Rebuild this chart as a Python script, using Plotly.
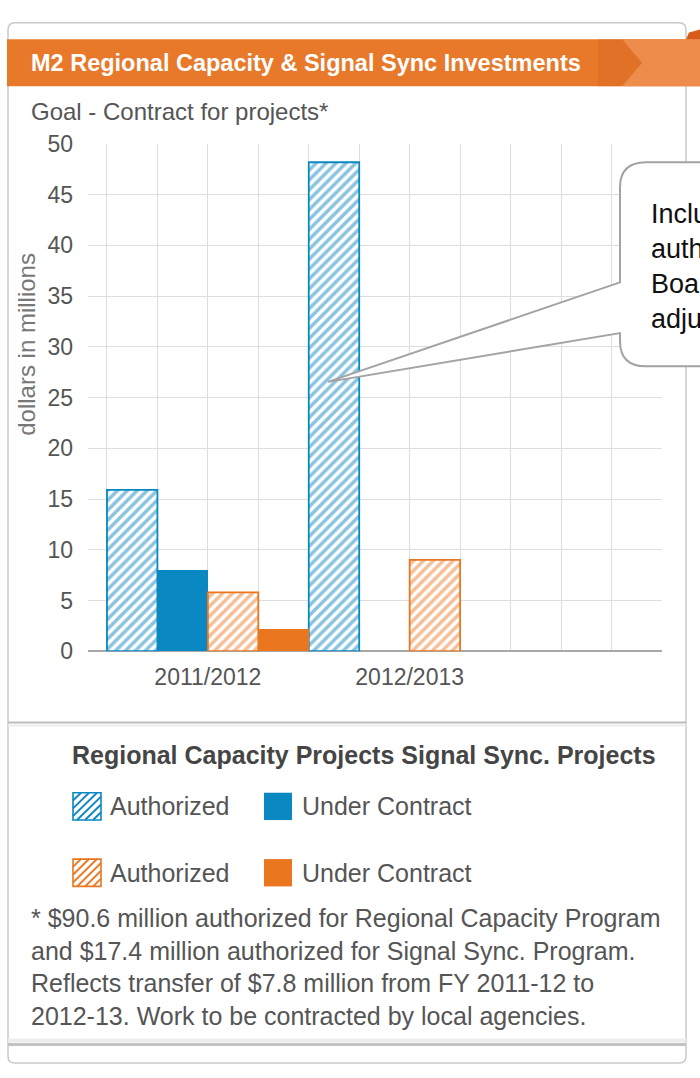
import plotly.graph_objects as go

W, H = 700, 1078

# ---------------- data ----------------
categories = ["2011/2012", "2012/2013"]
regional_authorized = [15.9, 48.2]
regional_under_contract = [8.0, 0.0]
signal_authorized = [5.8, 9.0]
signal_under_contract = [2.2, 0.0]
y_ticks = [0, 5, 10, 15, 20, 25, 30, 35, 40, 45, 50]

title_text = "M2 Regional Capacity & Signal Sync Investments"
subtitle_text = "Goal - Contract for projects*"
y_title = "dollars in millions"
legend_header = "Regional Capacity Projects Signal Sync. Projects"
legend_labels = ["Authorized", "Under Contract"]
footnote_lines = [
    "* $90.6 million authorized for Regional Capacity Program",
    "and $17.4 million authorized for Signal Sync. Program.",
    "Reflects transfer of $7.8 million from FY 2011-12 to",
    "2012-13. Work to be contracted by local agencies.",
]
callout_lines = ["Inclu", "auth", "Boa", "adju"]

# ---------------- style ----------------
FONT = "Liberation Sans, Arial, Helvetica, sans-serif"
BLUE = "#0A88C2"
BLUE_HATCH = "#1488C0"
ORANGE = "#EA761F"
ORANGE_HATCH = "#EC7D2C"
BANNER = "#E8792B"
GRID = "#DEDEDE"
TEXT = "#555555"


def px(x):
    return x / W


def py(y):
    return 1 - y / H


fig = go.Figure()
xpos = list(range(len(categories)))


def hatched_marker(line_color, hatch_color):
    return dict(
        color="white",
        pattern=dict(shape="/", fgcolor=hatch_color, bgcolor="white",
                     size=7, solidity=0.5),
        line=dict(color=line_color, width=1.8),
    )


fig.add_bar(x=xpos, y=regional_authorized, name="Authorized",
            marker=hatched_marker(BLUE, BLUE_HATCH))
fig.add_bar(x=xpos, y=regional_under_contract, name="Under Contract",
            marker=dict(color=BLUE, line=dict(width=0)))
fig.add_bar(x=xpos, y=signal_authorized, name="Authorized",
            marker=hatched_marker(ORANGE, ORANGE_HATCH))
fig.add_bar(x=xpos, y=signal_under_contract, name="Under Contract",
            marker=dict(color=ORANGE, line=dict(width=0)))

fig.update_layout(
    width=W, height=H,
    margin=dict(l=0, r=0, t=0, b=0),
    paper_bgcolor="white", plot_bgcolor="rgba(0,0,0,0)",
    barmode="group", bargap=0, bargroupgap=0,
    showlegend=False,
    font=dict(family=FONT, color=TEXT),
)

fig.update_xaxes(
    domain=[px(88), px(662)], range=[-0.594, 2.2505],
    tickmode="array", tickvals=xpos, ticktext=categories,
    showgrid=True, gridcolor=GRID, gridwidth=1,
    minor=dict(tickmode="linear", tick0=-0.5, dtick=0.25, showgrid=True,
               gridcolor=GRID, gridwidth=1, ticks=""),
    zeroline=False, showline=False, ticks="",
    tickfont=dict(size=23, color=TEXT, family=FONT),
    ticklabelstandoff=10, fixedrange=True,
)
fig.update_yaxes(
    domain=[py(654), py(134)], range=[0, 50.02],
    tickmode="array", tickvals=y_ticks,
    showgrid=True, gridcolor=GRID, gridwidth=1,
    zeroline=True, zerolinecolor="#A8A8A8", zerolinewidth=1.5,
    showline=False, ticks="",
    tickfont=dict(size=23, color=TEXT, family=FONT),
    ticklabelstandoff=14, fixedrange=True,
)

shapes = []


def rounded_rect(x0, y0, x1, y1, r):
    return (f"M{px(x0 + r)},{py(y0)} L{px(x1 - r)},{py(y0)} "
            f"Q{px(x1)},{py(y0)} {px(x1)},{py(y0 + r)} "
            f"L{px(x1)},{py(y1 - r)} Q{px(x1)},{py(y1)} {px(x1 - r)},{py(y1)} "
            f"L{px(x0 + r)},{py(y1)} Q{px(x0)},{py(y1)} {px(x0)},{py(y1 - r)} "
            f"L{px(x0)},{py(y0 + r)} Q{px(x0)},{py(y0)} {px(x0 + r)},{py(y0)} Z")


def poly(points):
    return "M" + " L".join(f"{px(a)},{py(b)}" for a, b in points) + " Z"


# panel frame
shapes.append(dict(type="path", xref="paper", yref="paper", layer="below",
                   path=rounded_rect(8, 10, 686, 1076, 7),
                   line=dict(color="#C9C9C9", width=1.5), fillcolor="white"))
# orange banner
shapes.append(dict(type="rect", xref="paper", yref="paper", layer="above",
                   x0=px(7), x1=px(700), y0=py(75), y1=py(27),
                   line=dict(width=0), fillcolor=BANNER))
shapes.append(dict(type="path", xref="paper", yref="paper", layer="above",
                   path=poly([(622, 27), (700, 27), (700, 75), (622, 75), (642, 51)]),
                   line=dict(width=0), fillcolor="#EE8C4B"))
shapes.append(dict(type="path", xref="paper", yref="paper", layer="above",
                   path=poly([(598, 27), (622, 27), (642, 51), (622, 75), (598, 75)]),
                   line=dict(width=0), fillcolor="#DA6C22", opacity=0.55))
shapes.append(dict(type="path", xref="paper", yref="paper", layer="above",
                   path=poly([(686, 27), (689, 20), (700, 17), (700, 27)]),
                   line=dict(width=0), fillcolor="#D85B1C"))
# dividers
shapes.append(dict(type="line", xref="paper", yref="paper", layer="above",
                   x0=px(8), x1=px(686), y0=py(727), y1=py(727),
                   line=dict(color="#BDBDBD", width=2)))
shapes.append(dict(type="line", xref="paper", yref="paper", layer="above",
                   x0=px(8), x1=px(686), y0=py(730), y1=py(730),
                   line=dict(color="#EBEBEB", width=2)))
shapes.append(dict(type="line", xref="paper", yref="paper", layer="above",
                   x0=px(8), x1=px(686), y0=py(1057), y1=py(1057),
                   line=dict(color="#C2C2C2", width=3)))
shapes.append(dict(type="line", xref="paper", yref="paper", layer="above",
                   x0=px(8), x1=px(686), y0=py(1053), y1=py(1053),
                   line=dict(color="#EDEDED", width=4)))

# callout bubble
cx0, cy0, cy1, cx1, cr = 620, 153, 362, 760, 26
callout = (f"M{px(cx0 + cr)},{py(cy0)} L{px(cx1)},{py(cy0)} L{px(cx1)},{py(cy1)} "
           f"L{px(cx0 + cr)},{py(cy1)} Q{px(cx0)},{py(cy1)} {px(cx0)},{py(cy1 - cr)} "
           f"L{px(cx0)},{py(328)} L{px(328)},{py(378)} L{px(cx0)},{py(276)} "
           f"L{px(cx0)},{py(cy0 + cr)} Q{px(cx0)},{py(cy0)} {px(cx0 + cr)},{py(cy0)} Z")
shapes.append(dict(type="path", xref="paper", yref="paper", layer="above",
                   path=callout, line=dict(color="#A3A3A3", width=2),
                   fillcolor="white"))


# legend swatches ("/" hatching)
def hatch_lines(x0, y0, size, step):
    segs = []
    k = step
    while k < 2 * size:
        u1 = max(0, k - size)
        v1 = k - u1
        u2 = min(size, k)
        v2 = k - u2
        segs.append(f"M{px(x0 + u1)},{py(y0 + v1)} L{px(x0 + u2)},{py(y0 + v2)}")
        k += step
    return " ".join(segs)


for row_y, line_c, hatch_c, solid_c in [(799, BLUE, BLUE_HATCH, BLUE),
                                         (867, ORANGE, ORANGE_HATCH, ORANGE)]:
    shapes.append(dict(type="path", xref="paper", yref="paper", layer="above",
                       path=hatch_lines(73, row_y, 28, 8),
                       line=dict(color=hatch_c, width=2)))
    shapes.append(dict(type="rect", xref="paper", yref="paper", layer="above",
                       x0=px(73), x1=px(101), y0=py(row_y + 28), y1=py(row_y),
                       line=dict(color=line_c, width=1.6)))
    shapes.append(dict(type="rect", xref="paper", yref="paper", layer="above",
                       x0=px(264), x1=px(292), y0=py(row_y + 28), y1=py(row_y),
                       line=dict(width=0), fillcolor=solid_c))

fig.update_layout(shapes=shapes)

ann = []


def text(x, y, s, size, color=TEXT, bold=False, anchor="left", **kw):
    ann.append(dict(xref="paper", yref="paper", x=px(x), y=py(y), text=s,
                    showarrow=False, xanchor=anchor, yanchor="middle",
                    font=dict(size=size, color=color, family=FONT,
                              weight="bold" if bold else "normal"), **kw))


text(29, 51, title_text, 23.5, color="white", bold=True)
text(29, 101, subtitle_text, 24)
text(27, 340, y_title, 24, color="#777777", anchor="center", textangle=-90)
text(70, 760, legend_header, 25, color="#454545", bold=True)
for row_c in (813, 881):
    text(108, row_c, legend_labels[0], 25)
    text(300, row_c, legend_labels[1], 25)
text(29, 978, "<br>".join(footnote_lines), 25, align="left")
text(649, 260, "<br>".join(callout_lines), 27, color="#111111", align="left")

fig.update_layout(annotations=ann)

fig.write_html(
    "out.html",
    config={"displayModeBar": False, "staticPlot": True},
    post_script="document.body.style.margin='0px';document.body.style.overflow='hidden';",
)
